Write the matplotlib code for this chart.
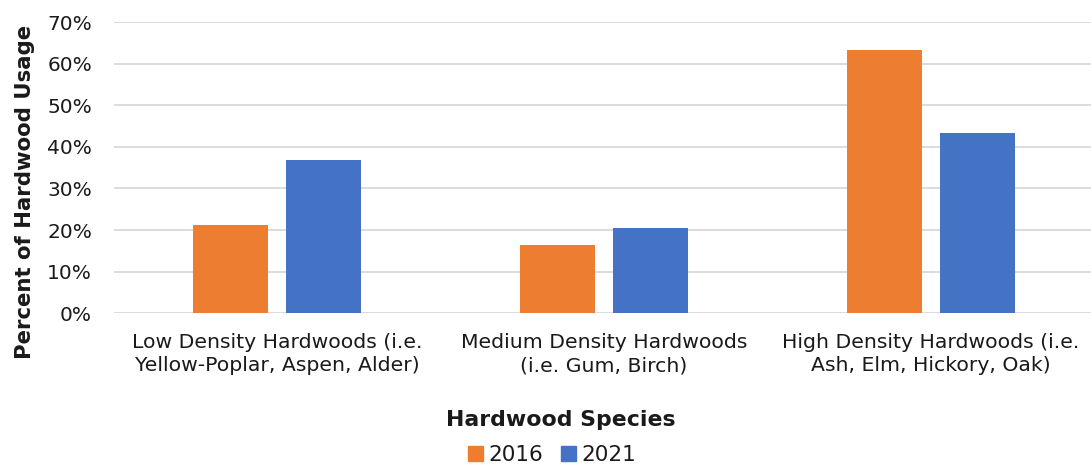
import numpy as np
import matplotlib
matplotlib.use('Agg')
import matplotlib.pyplot as plt
from matplotlib.patches import Patch
from matplotlib.ticker import PercentFormatter

plt.rcParams['font.family'] = ['DejaVu Sans']

categories = ["Low Density Hardwoods (i.e.\nYellow-Poplar, Aspen, Alder)",
              "Medium Density Hardwoods\n(i.e. Gum, Birch)",
              "High Density Hardwoods (i.e.\nAsh, Elm, Hickory, Oak)"]
years = ["2016", "2021"]
usage_2016 = [0.212, 0.163, 0.632]
usage_2021 = [0.368, 0.206, 0.433]
colors = ["#ED7D31", "#4472C4"]


def main():
    fig = plt.figure(figsize=(10.91, 4.67), dpi=100)
    W, H = 1091, 467
    left, right, top, bottom = 113.5, 1094.5, 22, 313.3
    ax = fig.add_axes([left / W, 1 - bottom / H, (right - left) / W, (bottom - top) / H])

    x = np.arange(len(categories))
    width = 0.23
    offset = 0.143
    ax.bar(x - offset, usage_2016, width, color=colors[0], zorder=3)
    ax.bar(x + offset, usage_2021, width, color=colors[1], zorder=3)

    ax.set_xlim(-0.5, len(categories) - 0.5)
    ax.set_ylim(0, 0.7)
    ax.set_yticks(np.arange(0, 0.71, 0.1))
    ax.yaxis.set_major_formatter(PercentFormatter(1.0, decimals=0))
    ax.set_xticks(x)
    ax.set_xticklabels(categories, fontsize=14.7, linespacing=1.3)
    ax.tick_params(axis='y', length=0, pad=15.5, labelsize=14.5, colors='#1a1a1a')
    ax.tick_params(axis='x', length=0, pad=14, colors='#1a1a1a')
    ax.grid(axis='y', color='#D9D9D9', linewidth=1.3, zorder=0)
    for s in ax.spines.values():
        s.set_visible(False)

    fig.text(25 / W, 1 - 192 / H, "Percent of Hardwood Usage", rotation=90,
             ha='center', va='center', fontsize=15.3, fontweight='bold', color='#1a1a1a')
    fig.text(561 / W, 1 - 420 / H, "Hardwood Species", ha='center', va='center',
             fontsize=15.8, fontweight='bold', color='#1a1a1a')

    handles = [Patch(color=c) for c in colors]
    fig.legend(handles, years, loc='center', bbox_to_anchor=(552 / W, 1 - 455 / H),
               ncol=2, frameon=False, fontsize=15.5, handlelength=0.7, handleheight=0.7,
               handletextpad=0.25, columnspacing=0.8, labelcolor='#1a1a1a',
               borderpad=0)

    fig.savefig("out.png", dpi=100)


if __name__ == "__main__":
    main()
